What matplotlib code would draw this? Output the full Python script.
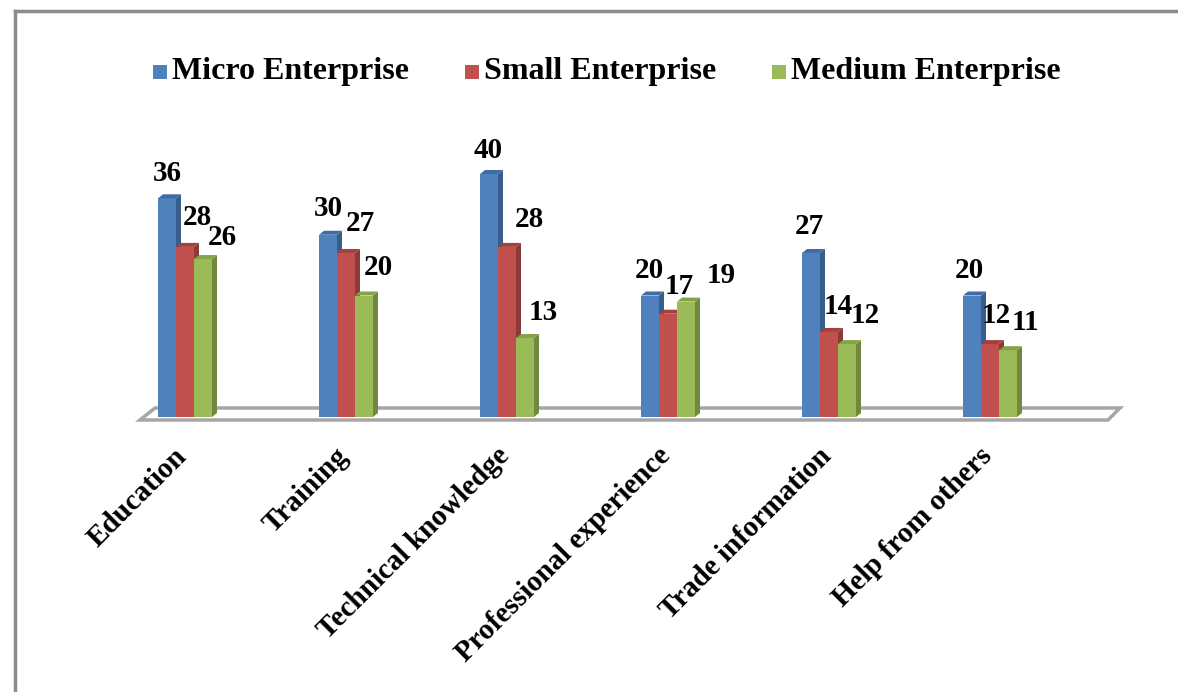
import matplotlib.pyplot as plt
from matplotlib.patches import Polygon, Rectangle
from matplotlib.lines import Line2D

categories = ['Education', 'Training', 'Technical knowledge',
              'Professional experience', 'Trade information', 'Help from others']
series = ['Micro Enterprise', 'Small Enterprise', 'Medium Enterprise']
micro = [36, 30, 40, 20, 27, 20]
small = [28, 27, 28, 17, 14, 12]
medium = [26, 20, 13, 19, 12, 11]

front = ['#4F81BD', '#C0504D', '#9BBB59']
side = ['#385D8A', '#8C3A38', '#71893F']
top = ['#3F6CA5', '#A5403D', '#84A348']

# label offsets in pixels from the top centre of each bar
label_offsets = [
    [(0, -25), (0, -26), (-1, -24), (-1, -25), (-2, -26), (-3, -25)],
    [(12, -29), (14, -29), (22, -27), (11, -27), (9, -25), (6, -29)],
    [(19, -22), (14, -28), (18, -26), (35, -26), (18, -29), (17, -28)],
]

plt.rcParams['font.family'] = ['Liberation Serif', 'DejaVu Serif']
plt.rcParams['font.weight'] = 'bold'

W, H = 1178, 692
fig = plt.figure(figsize=(W / 100, H / 100), dpi=100)

# pixel mapping of the plot: value 0 at y=417 px, 6.075 px per unit,
# group centre i at x = 185 + 161*i px
py0, pyu = 417, 6.075
px0, pxu = 185, 161
ylo, yhi = -1.5, 46
xlo, xhi = -0.4, 5.9
bot_px = py0 - ylo * pyu
top_px = py0 - yhi * pyu
left_px = px0 + xlo * pxu
right_px = px0 + xhi * pxu
ax = fig.add_axes([left_px / W, 1 - bot_px / H,
                   (right_px - left_px) / W, (bot_px - top_px) / H])
ax.set_xlim(xlo, xhi)
ax.set_ylim(ylo, yhi)
ax.axis('off')

# frame around the chart
fig.add_artist(Line2D([15 / W, 15 / W], [0, 1 - 11 / H], color='#8C8C8C', lw=2.5))
fig.add_artist(Line2D([15 / W, 1], [1 - 11 / H, 1 - 11 / H], color='#8C8C8C', lw=2.5))

# floor
fy0, fy1 = -3 / pyu, 9 / pyu
floor = Polygon([((140 - px0) / pxu, fy0), ((1108 - px0) / pxu, fy0),
                 ((1120 - px0) / pxu, fy1), ((155 - px0) / pxu, fy1)],
                closed=True, facecolor='white', edgecolor='#A6A6A6', lw=2.5, zorder=1)
ax.add_patch(floor)

bw = 18 / pxu
dx, dy = 5 / pxu, 4 / pyu
data = [micro, small, medium]
for j, vals in enumerate(data):
    for i, v in enumerate(vals):
        xc = i + (j - 1) * bw
        x0, x1 = xc - bw / 2, xc + bw / 2
        z = 3 + j
        ax.add_patch(Rectangle((x0, 0), bw, v, facecolor=front[j], edgecolor='none', zorder=z))
        ax.add_patch(Polygon([(x1, 0), (x1 + dx, dy), (x1 + dx, v + dy), (x1, v)],
                             closed=True, facecolor=side[j], edgecolor='none', zorder=z))
        ax.add_patch(Polygon([(x0, v), (x1, v), (x1 + dx, v + dy), (x0 + dx, v + dy)],
                             closed=True, facecolor=top[j], edgecolor='none', zorder=z))
        ox, oy = label_offsets[j][i]
        ax.annotate(str(v), (xc, v), xytext=(ox, -oy), textcoords='offset pixels',
                    ha='center', va='center', fontsize=21, fontweight='bold',
                    color='black', zorder=10)

# category labels
for i, c in enumerate(categories):
    ax.text(i - 2 / pxu, (py0 - 452) / pyu, c, rotation=45, rotation_mode='anchor',
            ha='right', va='center', fontsize=21, fontweight='bold')

# legend
leg_sq = [153, 465, 772]
for j, name in enumerate(series):
    fig.add_artist(Rectangle((leg_sq[j] / W, 1 - 79 / H), 14 / W, 14 / H,
                             facecolor=front[j], edgecolor='none'))
    fig.text((leg_sq[j] + 19) / W, 1 - 72 / H, name, ha='left', va='center',
             fontsize=23, fontweight='bold')

fig.savefig('out.png', dpi=100)
